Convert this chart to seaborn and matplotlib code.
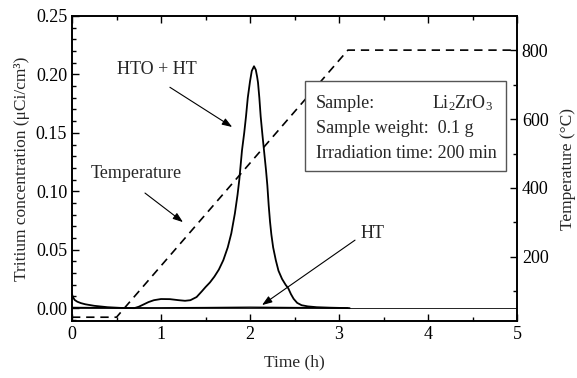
import numpy as np
import pandas as pd
import matplotlib
matplotlib.use("Agg")
import matplotlib.pyplot as plt
import seaborn as sns
from matplotlib.ticker import MultipleLocator
from matplotlib.patches import Rectangle

# ---- data ----
hto_t = [0.00, 0.01, 0.03, 0.06, 0.10, 0.15, 0.25, 0.40, 0.55, 0.70, 0.75, 0.80,
         0.86, 0.92, 1.00, 1.10, 1.20, 1.27, 1.33, 1.40, 1.46, 1.50, 1.55, 1.60,
         1.65, 1.70, 1.75, 1.79, 1.83, 1.86, 1.88, 1.91, 1.935, 1.955, 1.975,
         2.00, 2.02, 2.045, 2.065, 2.08, 2.09, 2.105, 2.12, 2.14, 2.16, 2.18,
         2.195, 2.21, 2.225, 2.24, 2.26, 2.29, 2.32, 2.36, 2.40, 2.43, 2.46,
         2.49, 2.53, 2.58, 2.65, 2.75, 2.90, 3.12]
hto_c = [0.012, 0.0095, 0.007, 0.0055, 0.0043, 0.0033, 0.002, 0.0008, 0.0002,
         0.0, 0.0012, 0.003, 0.0052, 0.0068, 0.0078, 0.0077, 0.0068, 0.0063,
         0.0068, 0.0095, 0.0145, 0.018, 0.022, 0.027, 0.033, 0.041, 0.052,
         0.064, 0.081, 0.097, 0.110, 0.135, 0.150, 0.164, 0.180, 0.194, 0.203,
         0.207, 0.204, 0.198, 0.193, 0.180, 0.164, 0.148, 0.133, 0.118, 0.105,
         0.088, 0.074, 0.063, 0.052, 0.041, 0.032, 0.025, 0.020, 0.017, 0.012,
         0.008, 0.0045, 0.0025, 0.0015, 0.0008, 0.0004, 0.0]
ht_t = [0.0, 0.5, 1.0, 1.5, 2.0, 2.5, 3.1]
ht_c = [0.0006, 0.0003, 0.0003, 0.0005, 0.0008, 0.0005, 0.0002]
temp_t = [0.0, 0.5, 3.1, 5.0]
temp_v = [25, 25, 800, 800]

sns.set_theme(style="ticks")
plt.rcParams["font.family"] = ["Liberation Serif", "DejaVu Serif"]
plt.rcParams["mathtext.fontset"] = "custom"
plt.rcParams["mathtext.rm"] = "Liberation Serif"
plt.rcParams["mathtext.it"] = "Liberation Serif:italic"

fig = plt.figure(figsize=(5.77, 3.78), dpi=100)
ax = fig.add_axes([72/577, 57/378, 445/577, 305/378])

df_hto = pd.DataFrame({"t": hto_t, "c": hto_c})
df_ht = pd.DataFrame({"t": ht_t, "c": ht_c})
df_temp = pd.DataFrame({"t": temp_t, "T": temp_v})

ax.axhline(0, color="black", lw=0.6, zorder=1)
sns.lineplot(data=df_ht, x="t", y="c", ax=ax, color="black", lw=1.0, sort=False)
sns.lineplot(data=df_hto, x="t", y="c", ax=ax, color="black", lw=1.3, sort=False)

ax.set_xlim(0, 5)
ax.set_ylim(-0.011, 0.25)
ax.xaxis.set_minor_locator(MultipleLocator(0.5))
ax.yaxis.set_minor_locator(MultipleLocator(0.01))
ax.set_xticks([0, 1, 2, 3, 4, 5])
ax.set_xticklabels(["0", "1", "2", "3", "4", "5"])
ax.set_yticks([0.0, 0.05, 0.10, 0.15, 0.20, 0.25])
ax.set_yticklabels(["0.00", "0.05", "0.10", "0.15", "0.20", "0.25"])
ax.tick_params(axis="both", which="both", direction="in", top=True, right=False,
               labelsize=13, color="black", labelcolor="black", width=1.0)
ax.tick_params(which="major", length=5)
ax.tick_params(which="minor", length=3)
ax.set_xlabel("Time (h)", fontsize=12.5, labelpad=8)
ax.set_ylabel("Tritium concentration (μCi/cm³)", fontsize=12.5, labelpad=4)
for s in ax.spines.values():
    s.set_linewidth(1.2)
    s.set_color("black")

ax2 = ax.twinx()
sns.lineplot(data=df_temp, x="t", y="T", ax=ax2, color="black", lw=1.2,
             linestyle=(0, (5, 3.5)), sort=False)
ax2.set_ylim(14, 899)
ax2.set_xlim(0, 5)
ax2.set_yticks([200, 400, 600, 800])
ax2.set_yticklabels(["200", "400", "600", "800"])
ax2.yaxis.set_minor_locator(MultipleLocator(100))
ax2.tick_params(axis="y", which="both", direction="in", labelsize=13,
                color="black", labelcolor="black", width=1.0)
ax2.tick_params(which="major", length=5)
ax2.tick_params(which="minor", length=3)
ax2.set_ylabel("Temperature (°C)", fontsize=12.5, labelpad=8)
ax2.set_xlabel("")
for s in ax2.spines.values():
    s.set_linewidth(1.2)
    s.set_color("black")

# annotations
arrow = dict(arrowstyle="-|>,head_length=0.5,head_width=0.18", color="black",
             lw=0.8, shrinkA=0, shrinkB=0)
ax.text(0.955, 0.2038, "HTO + HT", fontsize=13, ha="center", va="center")
ax.annotate("", xy=(1.80, 0.155), xytext=(1.10, 0.189), arrowprops=arrow)
ax.text(0.72, 0.1156, "Temperature", fontsize=13, ha="center", va="center")
ax.annotate("", xy=(1.247, 0.0736), xytext=(0.82, 0.0985), arrowprops=arrow)
ax.text(3.38, 0.0642, "HT", fontsize=13, ha="center", va="center")
ax.annotate("", xy=(2.135, 0.0026), xytext=(3.18, 0.0582), arrowprops=arrow)

# info box
box = Rectangle((0.5236, 0.492), 0.4514, 0.295, transform=ax.transAxes,
                facecolor="white", edgecolor="#555555", lw=1.0, zorder=5)
ax.add_patch(box)
ax.set_zorder(ax2.get_zorder() + 1)
ax.patch.set_visible(False)
ax.text(0.548, (321-103)/305, "Sample:", transform=ax.transAxes, fontsize=13,
        ha="left", va="center", zorder=6)
ax.text(0.946, (321-103)/305, r"Li$_2$ZrO$_3$", transform=ax.transAxes, fontsize=13,
        ha="right", va="center", zorder=6)
ax.text(0.548, (321-129)/305, "Sample weight:  0.1 g", transform=ax.transAxes,
        fontsize=13, ha="left", va="center", zorder=6)
ax.text(0.548, (321-153)/305, "Irradiation time: 200 min", transform=ax.transAxes,
        fontsize=13, ha="left", va="center", zorder=6)

if ax.get_legend():
    ax.get_legend().remove()
if ax2.get_legend():
    ax2.get_legend().remove()

fig.savefig("out.png", dpi=100, facecolor="white")
